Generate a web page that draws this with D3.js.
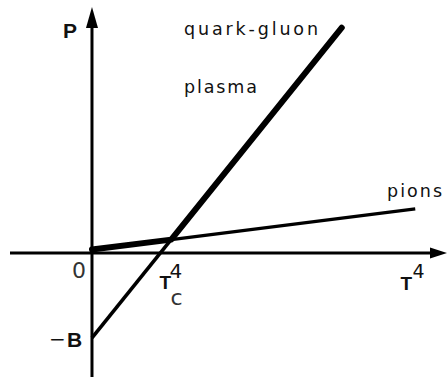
<!DOCTYPE html>
<html>
    <head>
        <script src="https://d3js.org/d3.v7.min.js"></script>
        <style>
            body{margin:0;background:#fff;}
            text{font-family:"DejaVu Sans",sans-serif;fill:#111;}
        </style>
    </head>
    <body>
        <svg height="377" width="447" id="chart"></svg>
        <script>
            // values in units of B (pressure) and T_c^4-ish (x)
            const xDomain=[-1.093, 4.733];
            const yDomain=[-1.459, 2.894];

            const pionsX=[0, 4.31];
            const pionsP=[0.04, 0.52];

            const qgpX=[0, 3.33];
            const qgpP=[-1, 2.65];

            // physical pressure = max(pions, qgp)
            const physX=[0, 1.056, 3.33];
            const physP=[0.04, 0.157, 2.65];

            const tc4=0.912;
            const minusB=-1;
            const t4=4.3;

            let svg=d3.select("#chart");
            let width=+svg.attr("width");
            let height=+svg.attr("height");

            let x=d3.scaleLinear().domain(xDomain).range([10, width]);
            let y=d3.scaleLinear().domain(yDomain).range([height, 7]);

            let line=d3.line().x(d=>x(d[0])).y(d=>y(d[1]));

            // axes
            svg.append("line")
                .attr("x1", x(xDomain[0])).attr("x2", x(xDomain[1])-10)
                .attr("y1", y(0)).attr("y2", y(0))
                .style("stroke", "#000").style("stroke-width", 3);
            svg.append("path")
                .attr("d", `M${x(xDomain[1])},${y(0)} L${x(xDomain[1])-17},${y(0)-5.5} L${x(xDomain[1])-17},${y(0)+5.5} Z`)
                .style("fill", "#000");

            svg.append("line")
                .attr("x1", x(0)).attr("x2", x(0))
                .attr("y1", y(yDomain[0])).attr("y2", y(yDomain[1])+12)
                .style("stroke", "#000").style("stroke-width", 3);
            svg.append("path")
                .attr("d", `M${x(0)},${y(yDomain[1])} L${x(0)-6},${y(yDomain[1])+21} L${x(0)+6},${y(yDomain[1])+21} Z`)
                .style("fill", "#000");

            // thin lines
            svg.append("path")
                .datum(pionsX.map((v,i)=>[v, pionsP[i]]))
                .attr("d", line)
                .style("fill", "none").style("stroke", "#000").style("stroke-width", 3.3);
            svg.append("path")
                .datum(qgpX.map((v,i)=>[v, qgpP[i]]))
                .attr("d", line)
                .style("fill", "none").style("stroke", "#000").style("stroke-width", 3.6);

            // thick physical curve
            svg.append("path")
                .datum(physX.map((v,i)=>[v, physP[i]]))
                .attr("d", line)
                .style("fill", "none").style("stroke", "#000").style("stroke-width", 6)
                .style("stroke-linecap", "round").style("stroke-linejoin", "round");

            // curve labels
            svg.append("text").attr("x", 184).attr("y", 35)
                .attr("textLength", 134).attr("lengthAdjust", "spacing")
                .style("font-size", "17.5px").text("quark-gluon");
            svg.append("text").attr("x", 184).attr("y", 93)
                .attr("textLength", 73).attr("lengthAdjust", "spacing")
                .style("font-size", "17.5px").text("plasma");
            svg.append("text").attr("x", 387).attr("y", 197)
                .attr("textLength", 55).attr("lengthAdjust", "spacing")
                .style("font-size", "17.5px").text("pions");

            // axis labels
            svg.append("text").attr("x", x(0)-29).attr("y", 38)
                .style("font-family", "Liberation Sans").style("font-weight", "bold").style("font-size", "21px")
                .text("P");

            svg.append("text").attr("x", x(0)-6).attr("y", y(0)+25)
                .attr("text-anchor", "end")
                .style("font-size", "22px").style("fill", "#333").text("0");

            let tc=svg.append("g").attr("transform", `translate(${x(tc4)},${y(0)})`);
            tc.append("text").attr("x", -1).attr("y", 36)
                .style("font-family", "Liberation Sans").style("font-weight", "bold").style("font-size", "19px").text("T");
            tc.append("text").attr("x", 9).attr("y", 25)
                .style("font-size", "20px").text("4");
            tc.append("text").attr("x", 10).attr("y", 52)
                .style("font-size", "22px").style("fill", "#333").text("c");

            let mb=svg.append("g").attr("transform", `translate(${x(0)},${y(minusB)})`);
            mb.append("text").attr("x", -43).attr("y", 8)
                .style("font-size", "20px").text("\u2212");
            mb.append("text").attr("x", -25).attr("y", 9)
                .style("font-family", "Liberation Sans").style("font-weight", "bold").style("font-size", "21px").text("B");

            let tt=svg.append("g").attr("transform", `translate(${x(t4)},${y(0)})`);
            tt.append("text").attr("x", -14).attr("y", 37)
                .style("font-family", "Liberation Sans").style("font-weight", "bold").style("font-size", "19px").text("T");
            tt.append("text").attr("x", -2).attr("y", 25)
                .style("font-size", "19px").text("4");
        </script>
    </body>
</html>
